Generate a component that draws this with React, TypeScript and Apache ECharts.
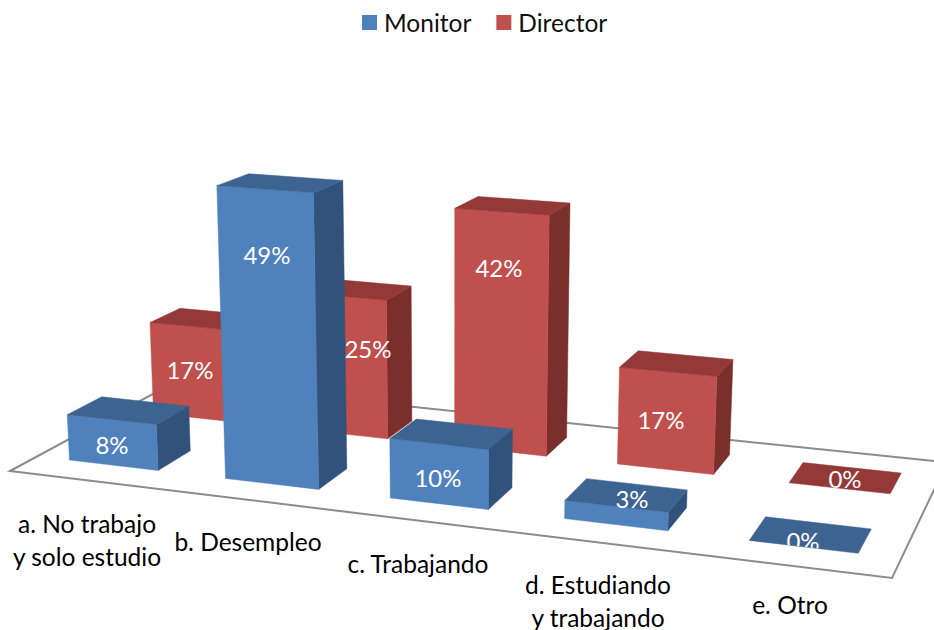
import React, { useEffect, useRef } from "react";
import * as echarts from "echarts";

const categories = ["a. No trabajo\ny solo estudio", "b. Desempleo", "c. Trabajando", "d. Estudiando\ny trabajando", "e. Otro"];
const monitorValues = [8, 49, 10, 3, 0];
const directorValues = [17, 25, 42, 17, 0];

// layout: where the tilted chart's labels sit on the page
const categoryLabelPos = [[87, 540], [248, 541], [418, 563], [598, 601], [790, 604]];
const monitorLabelPos = [[112, 444], [267, 254], [438, 477], [632, 498], [803, 540]];
const directorLabelPos = [[190, 369], [368, 348], [499, 267], [661, 419], [845, 478]];

// layout: perspective of the floor and vertical axis (from floor corners and vertical vanishing point)
const H = { a: 771.4, b: 191.5, c: 10, d: 35.3, e: -31.2, f: 471, g: -0.124, h: 0.1513 };
const VANISH = { x: 454, y: 8200, gamma: -0.00074 };
const BAR_HALF_SHARE = 0.285; // of a category's band
const DEPTH_HALF = 0.099;
const U_BOW = -0.012;
const FONT = "Lato, Carlito, sans-serif";
const COLORS = {
  Monitor: { front: "#4F81BD", top: "#3D6491", side: "#31527A" },
  Director: { front: "#C0504D", top: "#933937", side: "#7A2F2D" },
};

function project(u: number, v: number, z: number): number[] {
  const w = H.g * u + H.h * v + 1 + VANISH.gamma * z;
  return [
    (H.a * u + H.b * v + H.c + VANISH.gamma * VANISH.x * z) / w,
    (H.d * u + H.e * v + H.f + VANISH.gamma * VANISH.y * z) / w,
  ];
}

function makeSeries(name: "Monitor" | "Director", values: number[], depth: number, labelPos: number[][]) {
  const c = COLORS[name];
  return {
    name,
    type: "custom",
    coordinateSystem: "cartesian2d",
    itemStyle: { color: c.front },
    encode: { x: 0, y: 1 },
    data: values.map((v, i) => [i, v]),
    clip: false,
    silent: true,
    renderItem: (_p: any, api: any) => {
      const i = api.value(0);
      const val = api.value(1);
      const base = api.coord([i, 0]);
      const topPt = api.coord([i, val]);
      const band = base[0] / 100;
      const u = band + U_BOW * band * (1 - band);
      const half = (api.size([1, 0])[0] / 100) * BAR_HALF_SHARE;
      const z = base[1] - topPt[1];
      const v0 = depth - DEPTH_HALF;
      const v1 = depth + DEPTH_HALF;
      const u0 = u - half;
      const u1 = u + half;
      const poly = (points: number[][], fill: string) => ({
        type: "polygon",
        shape: { points },
        style: { fill, stroke: fill, lineWidth: 0.5 },
      });
      const topQuad = [project(u0, v0, z), project(u1, v0, z), project(u1, v1, z), project(u0, v1, z)];
      const children: any[] = [];
      if (z > 0) {
        children.push(poly([project(u1, v0, 0), project(u1, v1, 0), project(u1, v1, z), project(u1, v0, z)], c.side));
        children.push(poly([project(u0, v0, 0), project(u1, v0, 0), project(u1, v0, z), project(u0, v0, z)], c.front));
      }
      children.push(poly(topQuad, c.top));
      const label: any = {
        type: "text",
        style: {
          text: `${val}%`,
          x: labelPos[i][0],
          y: labelPos[i][1],
          fill: "#FFFFFF",
          fontFamily: FONT,
          fontSize: 24,
          align: "center",
          verticalAlign: "middle",
        },
      };
      if (z === 0) label.clipPath = { type: "polygon", shape: { points: topQuad } };
      children.push(label);
      return { type: "group", children };
    },
  };
}

export default function App() {
  const ref = useRef<HTMLDivElement>(null);
  useEffect(() => {
    const chart = echarts.init(ref.current!, undefined, { renderer: "svg" });
    const floor = [project(0, 0, 0), project(1, 0, 0), project(1, 1, 0), project(0, 1, 0)];
    chart.setOption({
      animation: false,
      backgroundColor: "#FFFFFF",
      legend: {
        data: ["Monitor", "Director"],
        left: 362,
        top: 10,
        padding: 0,
        itemWidth: 15,
        itemHeight: 15,
        itemGap: 25,
        selectedMode: false,
        icon: "rect",
        textStyle: { fontFamily: FONT, fontSize: 24.5, color: "#111111", padding: [0, 0, 0, 2] },
      },
      grid: { left: 0, top: 0, width: 100, height: 100 },
      xAxis: { type: "category", data: categories, show: false },
      yAxis: { type: "value", min: 0, max: 100, show: false },
      graphic: {
        elements: [
          {
            type: "polygon",
            z: 0,
            silent: true,
            shape: { points: floor },
            style: { fill: "none", stroke: "#8C8C8C", lineWidth: 2 },
          },
          ...categories.map((text, i) => ({
            type: "text",
            z: 0,
            silent: true,
            x: categoryLabelPos[i][0],
            y: categoryLabelPos[i][1],
            style: {
              text,
              fill: "#000000",
              fontFamily: FONT,
              fontSize: 24.5,
              lineHeight: 33,
              align: "center",
              verticalAlign: "middle",
            },
          })),
        ],
      },
      series: [
        makeSeries("Director", directorValues, 0.755, directorLabelPos),
        makeSeries("Monitor", monitorValues, 0.247, monitorLabelPos),
      ],
    });
    return () => chart.dispose();
  }, []);
  return <div ref={ref} style={{ position: "absolute", left: 0, top: 0, width: 934, height: 630 }} />;
}
